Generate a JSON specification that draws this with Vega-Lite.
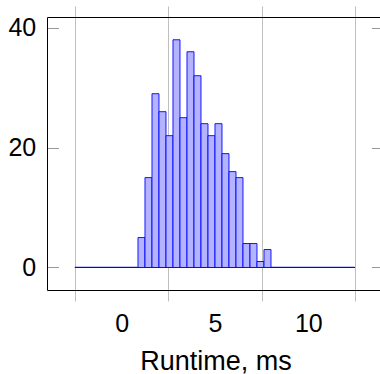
{
  "$schema": "https://vega.github.io/schema/vega-lite/v6.json",
  "width": 333,
  "height": 273,
  "autosize": "none",
  "padding": {"left": 47, "top": 17, "right": 0, "bottom": 84},
  "config": {"view": {"stroke": null}, "font": "Liberation Sans"},
  "data": {"values": [
    {"start": 0.875, "end": 1.25, "count": 5},
    {"start": 1.25, "end": 1.625, "count": 15},
    {"start": 1.625, "end": 2.0, "count": 29},
    {"start": 2.0, "end": 2.375, "count": 26},
    {"start": 2.375, "end": 2.75, "count": 22},
    {"start": 2.75, "end": 3.125, "count": 38},
    {"start": 3.125, "end": 3.5, "count": 25},
    {"start": 3.5, "end": 3.875, "count": 36},
    {"start": 3.875, "end": 4.25, "count": 32},
    {"start": 4.25, "end": 4.625, "count": 24},
    {"start": 4.625, "end": 5.0, "count": 22},
    {"start": 5.0, "end": 5.375, "count": 24},
    {"start": 5.375, "end": 5.75, "count": 19},
    {"start": 5.75, "end": 6.125, "count": 16},
    {"start": 6.125, "end": 6.5, "count": 15},
    {"start": 6.5, "end": 6.875, "count": 4},
    {"start": 6.875, "end": 7.25, "count": 4},
    {"start": 7.25, "end": 7.625, "count": 1},
    {"start": 7.625, "end": 8.0, "count": 3}
  ]},
  "resolve": {"axis": {"x": "independent", "y": "independent"}},
  "layer": [
    {
      "mark": {"type": "rule", "color": "#0000ff", "strokeWidth": 1},
      "encoding": {
        "x": {"datum": -2.5, "type": "quantitative",
          "axis": {"orient": "top", "values": [-2.5, 2.5, 7.5, 12.5], "labels": false, "grid": false,
            "ticks": true, "tickSize": 11, "tickColor": "#bfbfbf", "tickWidth": 1,
            "domain": true, "domainColor": "#000000", "domainWidth": 1, "title": null}},
        "x2": {"datum": 12.5},
        "y": {"datum": 0, "type": "quantitative",
          "axis": {"orient": "right", "values": [0, 20, 40], "labels": false, "grid": false,
            "ticks": true, "tickSize": -8.5, "tickColor": "#999999", "tickWidth": 1,
            "domain": false, "title": null}}
      }
    },
    {
      "mark": {"type": "bar", "fill": "#b3b3ff", "stroke": "#0000ff", "strokeWidth": 0.9},
      "encoding": {
        "x": {"field": "start", "type": "quantitative",
          "scale": {"domain": [-4, 13.84], "nice": false, "zero": false},
          "axis": {"orient": "bottom", "values": [-2.5, 2.5, 7.5, 12.5],
            "grid": true, "gridColor": "#bfbfbf", "gridWidth": 1,
            "ticks": true, "tickSize": 11, "tickColor": "#bfbfbf", "tickWidth": 1,
            "domain": true, "domainColor": "#000000", "domainWidth": 1,
            "labelExpr": "datum.value < 10 ? toString(datum.value + 2.5) : ''",
            "labelOffset": 46.67, "labelFlush": false, "labelOverlap": false, "labelBound": false,
            "labelFont": "Liberation Sans", "labelFontSize": 25, "labelColor": "#000000",
            "labelBaseline": "alphabetic", "labelPadding": 30.7,
            "title": "Runtime, ms", "titleFont": "Liberation Sans", "titleFontSize": 27,
            "titleFontWeight": "normal", "titleColor": "#000000",
            "titleBaseline": "alphabetic", "titleY": 79, "titleX": 168.5, "titleAlign": "center"}},
        "x2": {"field": "end"},
        "y": {"field": "count", "type": "quantitative",
          "scale": {"domain": [-3.755, 41.8], "nice": false, "zero": false},
          "axis": {"orient": "left", "values": [0, 20, 40], "grid": false,
            "ticks": true, "tickSize": -11.5, "tickColor": "#999999", "tickWidth": 1,
            "domain": true, "domainColor": "#000000", "domainWidth": 1,
            "labelFont": "Liberation Sans", "labelFontSize": 25, "labelColor": "#000000",
            "labelBaseline": "middle", "labelPadding": 22.8, "title": null}},
        "y2": {"datum": 0}
      }
    }
  ]
}
